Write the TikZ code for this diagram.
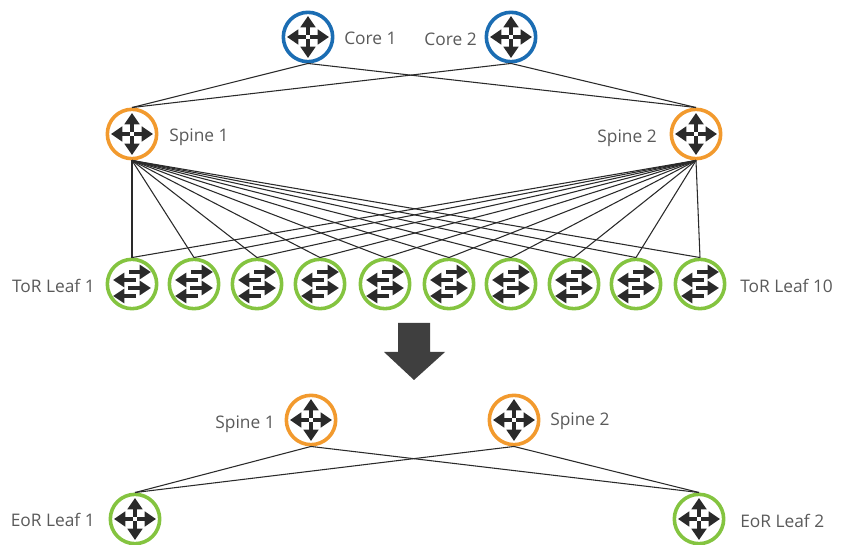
\documentclass[tikz,border=0pt]{standalone}
\usepackage{fontspec}
\setmainfont{Open Sans}
\usetikzlibrary{arrows.meta}
\definecolor{corecol}{HTML}{1B6DB3}
\definecolor{spinecol}{HTML}{F29A2E}
\definecolor{leafcol}{HTML}{84C440}
\definecolor{icongray}{HTML}{2A2A2A}
\definecolor{labelgray}{HTML}{5A5A5A}
\tikzset{
    device/.style={circle, draw, line width=2.7pt, minimum size=37pt, inner sep=0pt},
    corenode/.style={device, draw=corecol},
    spinenode/.style={device, draw=spinecol},
    leafnode/.style={device, draw=leafcol},
    label/.style={text=labelgray, font=\fontsize{13}{15}\selectfont, inner sep=0pt},
    link/.style={line width=0.8pt, draw=icongray},
    icon/.style={line width=2.6pt, draw=icongray, {Triangle[length=8.5pt,width=11pt]}-{Triangle[length=8.5pt,width=11pt]}},
    oneway/.style={line width=3pt, draw=icongray, -{Triangle[length=8.5pt,width=10.5pt]}},
    routericon/.pic={
        \draw[icon] (-21,0) -- (21,0);
        \draw[icon] (0,-21) -- (0,21);
        \fill[white] (-1.8,-1.8) rectangle (1.8,1.8);
    },
    switchicon/.pic={
        \draw[oneway] (-3,-12) -- (19,-12);
        \draw[oneway] (4,-4) -- (-19,-4);
        \draw[oneway] (-4,4) -- (19,4);
        \draw[oneway] (4,12) -- (-19,12);
    }
}
\begin{document}
\begin{tikzpicture}[x=0.75pt, y=-0.75pt]
    \useasboundingbox (0, 0) rectangle (847, 545);

    % core
    \node[corenode] (core1) at (308, 37) {};
    \node[corenode] (core2) at (511, 37) {};
    \pic at (core1) {routericon};
    \pic at (core2) {routericon};
    \node[label, anchor=west] (core1label) at (344, 38) {Core 1};
    \node[label, anchor=east] (core2label) at (477, 39) {Core 2};

    % spines
    \node[spinenode] (spine1) at (132, 134) {};
    \node[spinenode] (spine2) at (696, 134) {};
    \pic at (spine1) {routericon};
    \pic at (spine2) {routericon};
    \node[label, anchor=west] (spine1label) at (169, 137) {Spine 1};
    \node[label, anchor=east] (spine2label) at (657, 138) {Spine 2};

    % tor leaves
    \foreach \i/\x in {1/132, 2/194, 3/257, 4/320, 5/385, 6/449, 7/511, 8/574, 9/636, 10/700} {
        \node[leafnode] (tor\i) at (\x, 284) {};
        \pic at (tor\i) {switchicon};
        \draw[link] (spine1.south) -- (tor\i.north);
        \draw[link] (spine2.south) -- (tor\i.north);
    }
    \node[label, anchor=east] (tor1label) at (95, 286) {ToR Leaf 1};
    \node[label, anchor=west] (tor10label) at (740, 286) {ToR Leaf 10};

    \foreach \a in {core1, core2} {
        \draw[link] (\a.south) -- (spine1.north);
        \draw[link] (\a.south) -- (spine2.north);
    }

    % big arrow
    \fill[icongray!90] (398, 323) -- (430, 323) -- (430, 352) -- (445, 352) -- (414, 380) -- (384, 352) -- (398, 352) -- cycle;

    % lower part
    \node[spinenode] (eorspine1) at (311, 420) {};
    \node[spinenode] (eorspine2) at (514, 420) {};
    \pic at (eorspine1) {routericon};
    \pic at (eorspine2) {routericon};
    \node[label, anchor=east] (eorspine1label) at (275, 424) {Spine 1};
    \node[label, anchor=west] (eorspine2label) at (550, 421) {Spine 2};

    \node[leafnode] (eor1) at (135, 519) {};
    \node[leafnode] (eor2) at (699, 519) {};
    \pic at (eor1) {routericon};
    \pic at (eor2) {routericon};
    \node[label, anchor=east] (eor1label) at (95, 520) {EoR Leaf 1};
    \node[label, anchor=west] (eor2label) at (740, 521) {EoR Leaf 2};

    \foreach \a in {eorspine1, eorspine2} {
        \draw[link] (\a.south) -- (eor1.north);
        \draw[link] (\a.south) -- (eor2.north);
    }
\end{tikzpicture}
\end{document}
